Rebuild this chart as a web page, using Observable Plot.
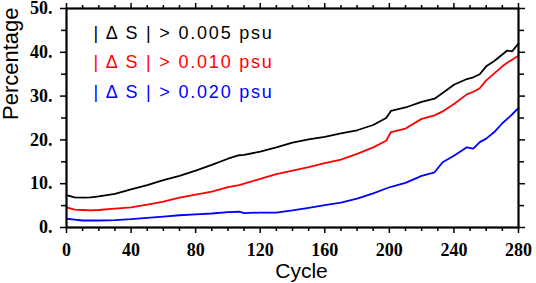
<!DOCTYPE html>
<html><head><meta charset="utf-8">
<script src="https://cdn.jsdelivr.net/npm/d3@7"></script>
<script src="https://cdn.jsdelivr.net/npm/@observablehq/plot@0.6"></script>
<style>body{margin:0;background:#fff}</style>
</head><body><div id="chart"></div>
<script>
// Cycle positions at which values were read
const cycles = [0,5,10,15,20,30,40,50,60,70,80,90,100,107,110,120,130,140,150,160,170,180,190,198,201,210,220,228,233,240,248,252,256,260,265,270,273,276,280];
// |ΔS| > 0.005 psu
const gt005 = [7.4,6.9,6.8,6.9,7.1,7.7,8.7,9.7,10.8,11.8,13.0,14.3,15.7,16.5,16.6,17.3,18.3,19.4,20.1,20.7,21.5,22.2,23.4,25.0,26.6,27.4,28.7,29.4,30.7,32.6,33.9,34.3,35.0,36.8,38.0,39.5,40.4,40.2,42.0];
// |ΔS| > 0.010 psu
const gt010 = [4.6,4.1,4.0,3.9,4.0,4.3,4.6,5.2,5.9,6.8,7.5,8.2,9.2,9.7,10.0,11.1,12.2,13.0,13.8,14.7,15.5,16.8,18.3,19.8,21.8,22.6,24.8,25.6,26.5,28.2,30.4,31.0,31.8,33.6,35.2,36.8,37.6,38.3,39.2];
// |ΔS| > 0.020 psu
const gt020 = [2.0,1.8,1.6,1.6,1.6,1.7,1.9,2.2,2.5,2.8,3.0,3.2,3.5,3.6,3.3,3.4,3.4,3.9,4.5,5.1,5.7,6.6,7.8,8.9,9.3,10.2,11.8,12.6,14.9,16.4,18.3,18.0,19.5,20.3,21.8,23.8,24.8,25.8,27.3];

const seriesNames = ["| Δ S | > 0.005 psu", "| Δ S | > 0.010 psu", "| Δ S | > 0.020 psu"];
const seriesColors = ["#000000", "#ff0000", "#0000ff"];
const seriesValues = [gt005, gt010, gt020];

const xTicks = [0,40,80,120,160,200,240,280];
const xMinorTicks = [10,20,30,50,60,70,90,100,110,130,140,150,170,180,190,210,220,230,250,260,270];
const yTicks = [0,10,20,30,40,50];
const yMinorTicks = [5,15,25,35,45];
const yTickLabels = ["0.","10.","20.","30.","40.","50."];
const xTitle = "Cycle";
const yTitle = "Percentage";

const rows = [];
seriesValues.forEach((vals, s) => vals.forEach((v, i) => rows.push({cycle: cycles[i], value: v, series: seriesNames[s]})));

const serif = "'Liberation Serif', 'Times New Roman', serif";

const plot = Plot.plot({
  width: 536, height: 283,
  marginLeft: 66, marginRight: 18, marginTop: 8, marginBottom: 56,
  style: {background: "#fff", color: "#000", overflow: "visible"},
  x: {domain: [0, 280], label: null},
  y: {domain: [0, 50], label: null},
  color: {domain: seriesNames, range: seriesColors},
  marks: [
    Plot.line(rows, {x: "cycle", y: "value", z: "series", stroke: "series", strokeWidth: 1.8}),
    Plot.axisX({anchor: "bottom", ticks: xTicks, tickSize: 6, tickPadding: 10, tickFormat: d => String(d), label: null, strokeWidth: 1.5, fontSize: 18, fontFamily: serif, fontWeight: "bold"}),
    Plot.axisX({anchor: "bottom", ticks: xMinorTicks, tickSize: 4, tickFormat: () => "", label: null, strokeWidth: 1.5}),
    Plot.axisX({anchor: "top", ticks: xTicks, tickSize: 6, tickFormat: () => "", label: null, strokeWidth: 1.5}),
    Plot.axisX({anchor: "top", ticks: xMinorTicks, tickSize: 4, tickFormat: () => "", label: null, strokeWidth: 1.5}),
    Plot.axisY({anchor: "left", ticks: yTicks, tickSize: 6, tickPadding: 8, tickFormat: d => yTickLabels[yTicks.indexOf(d)], label: null, strokeWidth: 1.5, fontSize: 18, fontFamily: serif, fontWeight: "bold"}),
    Plot.axisY({anchor: "left", ticks: yMinorTicks, tickSize: 5, tickFormat: () => "", label: null, strokeWidth: 1.5}),
    Plot.axisY({anchor: "right", ticks: yTicks, tickSize: 6, tickFormat: () => "", label: null, strokeWidth: 1.5}),
    Plot.axisY({anchor: "right", ticks: yMinorTicks, tickSize: 5, tickFormat: () => "", label: null, strokeWidth: 1.5}),
    Plot.frame({stroke: "#000", strokeWidth: 2.2}),
    Plot.text([xTitle], {frameAnchor: "bottom", text: d => d, lineAnchor: "bottom", dx: 9, dy: 50, fill: "#000", fontFamily: "Liberation Sans", fontSize: 21}),
    Plot.text([yTitle], {frameAnchor: "left", text: d => d, rotate: -90, lineAnchor: "bottom", dx: -49, dy: 2, fill: "#000", fontFamily: "Liberation Sans", fontSize: 22}),
    ...seriesNames.map((name, i) => Plot.text([name], {frameAnchor: "top-left", text: d => d, textAnchor: "start", lineAnchor: "bottom", dx: 27, dy: 30 + i * 29.5, fill: seriesColors[i], fontFamily: "Liberation Sans", fontSize: 18}))
  ]
});

document.getElementById("chart").appendChild(plot);

// tick labels: bold serif
const tickTexts = new Set([...xTicks.map(String), ...yTickLabels]);
d3.select(plot).selectAll("text").filter(function () { return tickTexts.has(this.textContent.trim()); })
  .each(function () {
    this.setAttribute("font-family", serif);
    this.setAttribute("font-weight", "bold");
    this.style.setProperty("font-family", serif, "important");
    this.style.setProperty("font-weight", "bold", "important");
  });

d3.select(plot).selectAll("text").filter(function () { return this.textContent.includes("psu"); })
  .attr("letter-spacing", 1.8).style("white-space", "pre");
</script>
</body></html>
